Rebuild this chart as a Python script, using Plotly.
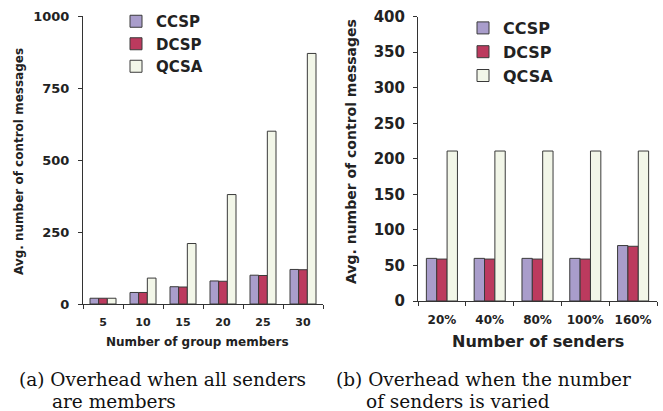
import plotly.graph_objects as go

# Panel (a): all senders are members
members = ["5", "10", "15", "20", "25", "30"]
ccsp_a = [20, 40, 60, 80, 100, 120]
dcsp_a = [20, 40, 59, 79, 99, 119]
qcsa_a = [20, 90, 210, 380, 600, 870]

# Panel (b): number of senders varied
senders = ["20%", "40%", "80%", "100%", "160%"]
ccsp_b = [60, 60, 60, 60, 78]
dcsp_b = [59, 59, 59, 59, 77]
qcsa_b = [211, 211, 211, 211, 211]

series = ["CCSP", "DCSP", "QCSA"]
colors = ["#A99DCB", "#BC3A5E", "#F2F6E8"]

W, H = 663, 411
SANS = "DejaVu Sans, Liberation Sans, Arial, sans-serif"
SERIF = "DejaVu Serif, Liberation Serif, Times New Roman, serif"
TXT = "#222222"

fig = go.Figure()
for name, vals, col in zip(series, [ccsp_a, dcsp_a, qcsa_a], colors):
    fig.add_trace(go.Bar(x=members, y=vals, name=name,
                         marker=dict(color=col, line=dict(color="#3a3a3a", width=1)),
                         xaxis="x", yaxis="y", legend="legend"))
for name, vals, col in zip(series, [ccsp_b, dcsp_b, qcsa_b], colors):
    fig.add_trace(go.Bar(x=senders, y=vals, name=name,
                         marker=dict(color=col, line=dict(color="#3a3a3a", width=1)),
                         xaxis="x2", yaxis="y2", legend="legend2"))


def px_x(p):
    return p / W


def px_y(p):
    return 1 - p / H


axis_common = dict(showline=True, linecolor="#333333", linewidth=1, showgrid=False, zeroline=False,
                   ticks="outside", tickcolor="#333333", ticklen=4, automargin=False)

fig.update_layout(
    width=W, height=H, margin=dict(l=0, r=0, t=0, b=0, pad=0), autosize=False,
    paper_bgcolor="white", plot_bgcolor="white",
    barmode="group", bargap=0.35, bargroupgap=0,
    font=dict(family=SANS, color=TXT),
    xaxis=dict(domain=[px_x(83), px_x(323)], anchor="y", type="category", range=[-0.5, 5.5],
               tickson="boundaries", ticklabelstandoff=8,
               tickfont=dict(size=11, weight="bold"), **axis_common),
    yaxis=dict(domain=[px_y(304), px_y(16)], anchor="x", range=[0, 1000],
               tickvals=[0, 250, 500, 750, 1000], ticklabelstandoff=6,
               tickfont=dict(size=13, weight="bold"), **axis_common),
    xaxis2=dict(domain=[px_x(418), px_x(657)], anchor="y2", type="category", range=[-0.5, 4.5],
                tickson="boundaries", ticklabelstandoff=8,
                tickfont=dict(size=12, weight="bold"), **axis_common),
    yaxis2=dict(domain=[px_y(301), px_y(16.7)], anchor="x2", range=[0, 400], dtick=50,
                ticklabelstandoff=5,
                tickfont=dict(size=15, weight="bold"), **axis_common),
    legend=dict(x=px_x(116), y=px_y(44), xanchor="left", yanchor="middle", bgcolor="rgba(0,0,0,0)",
                font=dict(size=15, weight="bold", color=TXT), itemwidth=30, tracegroupgap=0),
    legend2=dict(x=px_x(463), y=px_y(52), xanchor="left", yanchor="middle", bgcolor="rgba(0,0,0,0)",
                 font=dict(size=16, weight="bold", color=TXT), itemwidth=30, tracegroupgap=0),
    showlegend=True,
)

ann = [
    dict(text="Avg. number of control messages", x=px_x(19), y=px_y(162), textangle=-90,
         font=dict(size=12, weight="bold")),
    dict(text="Avg. number of control messages", x=px_x(351), y=px_y(152), textangle=-90,
         font=dict(size=14, weight="bold")),
    dict(text="Number of group members", x=px_x(197), y=px_y(342), font=dict(size=12, weight="bold")),
    dict(text="Number of senders", x=px_x(538), y=px_y(341), font=dict(size=16, weight="bold")),
    dict(text="(a)\u00a0Overhead\u00a0when\u00a0all\u00a0senders", x=px_x(17), y=px_y(379),
         xanchor="left", font=dict(size=18.5, family=SERIF, color="#111")),
    dict(text="are\u00a0members", x=px_x(50), y=px_y(401),
         xanchor="left", font=dict(size=18.5, family=SERIF, color="#111")),
    dict(text="(b)\u00a0Overhead\u00a0when\u00a0the\u00a0number", x=px_x(334), y=px_y(379),
         xanchor="left", font=dict(size=18.5, family=SERIF, color="#111")),
    dict(text="of\u00a0senders\u00a0is\u00a0varied", x=px_x(364), y=px_y(401),
         xanchor="left", font=dict(size=18.5, family=SERIF, color="#111")),
]
for a in ann:
    a.setdefault("xanchor", "center")
    fig.add_annotation(xref="paper", yref="paper", showarrow=False, yanchor="middle", **a)

fig.write_html("out.html", config={"displayModeBar": False},
               post_script="document.body.style.margin='0';document.body.style.padding='0';")
